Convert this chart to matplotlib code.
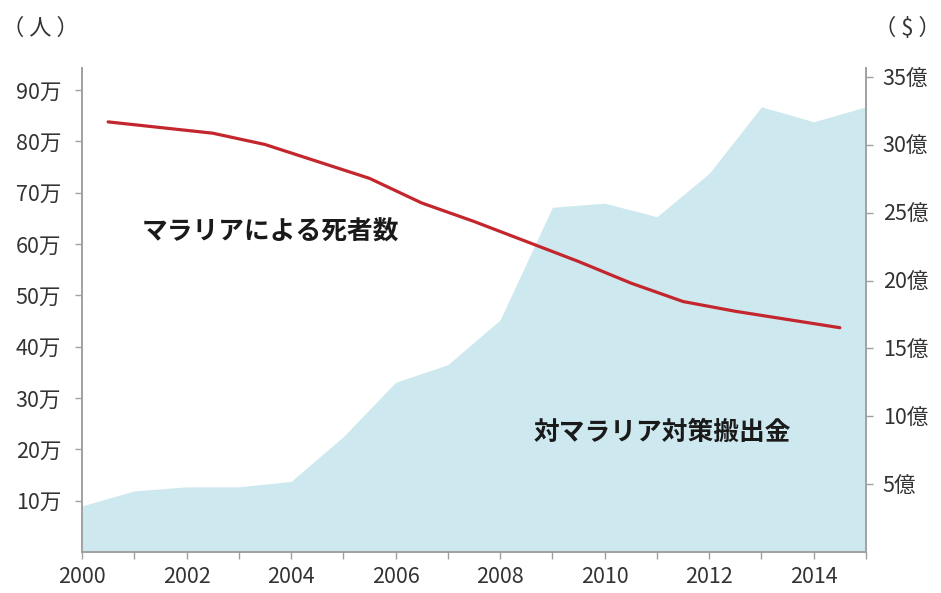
import matplotlib.pyplot as plt
from matplotlib.ticker import FixedLocator

plt.rcParams['font.family'] = ['Noto Sans CJK JP', 'DejaVu Sans']

# malaria deaths (万人), plotted at mid-year
death_years = [2000.5, 2001.5, 2002.5, 2003.5, 2004.5, 2005.5, 2006.5, 2007.5,
               2008.5, 2009.5, 2010.5, 2011.5, 2012.5, 2013.5, 2014.5]
deaths = [83.8, 82.7, 81.6, 79.4, 76.1, 72.8, 68.0, 64.4,
          60.5, 56.6, 52.4, 48.8, 46.9, 45.3, 43.7]

# funding for malaria control (億ドル)
fund_years = list(range(2000, 2016))
funding = [3.4, 4.5, 4.8, 4.8, 5.2, 8.5, 12.5, 13.8,
           17.1, 25.4, 25.7, 24.7, 27.9, 32.8, 31.7, 32.8]

left_ticks = [10, 20, 30, 40, 50, 60, 70, 80, 90]
right_ticks = [5, 10, 15, 20, 25, 30, 35]
x_labels = [2000, 2002, 2004, 2006, 2008, 2010, 2012, 2014]

text_col = '#333333'
spine_col = '#a0a0a0'

fig = plt.figure(figsize=(9.41, 5.93), dpi=100)
ax1 = fig.add_axes([82 / 941, 41 / 593, 784 / 941, 484 / 593])
ax2 = ax1.twinx()

# funding area on the right axis, behind the line
ax2.fill_between(fund_years, funding, 0, color='#cde8ee', linewidth=0)
ax2.set_ylim(0, 35.66)
ax2.yaxis.set_major_locator(FixedLocator(right_ticks))
ax2.set_yticklabels([f'{v}億' for v in right_ticks])

# deaths line on the left axis
ax1.set_zorder(ax2.get_zorder() + 1)
ax1.patch.set_visible(False)
ax1.plot(death_years, deaths, color='#c4262d', linewidth=2.3,
         solid_capstyle='round', solid_joinstyle='round')
ax1.set_xlim(2000, 2015)
ax1.set_ylim(0, 94.3)
ax1.yaxis.set_major_locator(FixedLocator(left_ticks))
ax1.set_yticklabels([f'{v}万' for v in left_ticks])
ax1.set_xticks(x_labels)
ax1.set_xticklabels([str(v) for v in x_labels])
ax1.set_xticks(range(2000, 2016), minor=True)

for a in (ax1, ax2):
    a.spines['top'].set_visible(False)
    for s in ('left', 'right', 'bottom'):
        a.spines[s].set_color(spine_col)
        a.spines[s].set_linewidth(1.2)
    a.tick_params(axis='both', which='both', color=spine_col, length=5,
                  width=1, labelcolor=text_col, labelsize=15.5, pad=7)
ax1.tick_params(axis='y', pad=10)
ax1.tick_params(axis='x', pad=5)

ax1.text(2003.6, 62.4, 'マラリアによる死者数', fontsize=18.5, fontweight='bold',
         color='#1a1a1a', ha='center', va='center')
ax1.text(2011.1, 23.4, '対マラリア対策搬出金', fontsize=18.5, fontweight='bold',
         color='#1a1a1a', ha='center', va='center')

fig.text(40 / 941, 1 - 28 / 593, '（ 人 ）', fontsize=16, color=text_col,
         ha='center', va='center')
fig.text(907 / 941, 1 - 28 / 593, '（ $ ）', fontsize=16, color=text_col,
         ha='center', va='center')

fig.savefig('out.png', dpi=100)
